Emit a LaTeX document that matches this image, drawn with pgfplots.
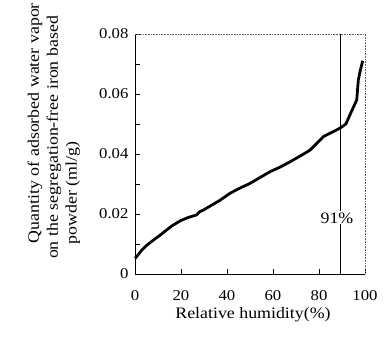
\documentclass[border=0pt]{standalone}
\usepackage{fontspec}
\setmainfont{Liberation Serif}[FakeStretch=1.12]
\usepackage{pgfplots}
\pgfplotsset{compat=1.18}
\begin{document}
\begin{tikzpicture}[x=1bp,y=1bp]
\useasboundingbox (-135bp,-69bp) rectangle (250bp,274bp);
\begin{axis}[
  at={(0,0)}, anchor=south west,
  scale only axis, width=230bp, height=240bp,
  xmin=0, xmax=100, ymin=0, ymax=0.08,
  axis x line*=bottom, axis y line*=left,
  axis line style={line width=0.8pt, -},
  xtick={0,20,40,60,80,100},
  ytick={0,0.02,0.04,0.06,0.08},
  minor ytick={0.01,0.03,0.05,0.07},
  yticklabels={0,0.02,0.04,0.06,0.08},
  scaled y ticks=false,
  tick align=inside,
  major tick length=5bp, minor tick length=5bp,
  tick style={line width=0.6pt, black},
  /pgf/number format/assume math mode=true,
  ticklabel style={font=\fontsize{15}{17}\selectfont},
  yticklabel style={xshift=-3bp},
  xticklabel style={yshift=-13bp},
  xlabel={Relative humidity(\%)},
  xlabel style={font=\fontsize{16}{18}\selectfont, at={(axis description cs:0.513,-0.1675)}, anchor=center},
  clip=false,
]
\draw[densely dotted, line width=0.6pt, gray!80!black] (rel axis cs:0,1) -- (rel axis cs:1,1) -- (rel axis cs:1,0);
\draw[line width=0.9pt] (axis cs:89.5,0) -- (axis cs:89.5,0.08);
\addplot[black, line width=2.8pt, line join=round] coordinates {
(0,0.0052) (0.7,0.0058) (3,0.0080) (5,0.0095) (8,0.0113) (11,0.0130) (13.8,0.0147)
(16,0.0160) (19.6,0.0177) (23,0.0188) (26.8,0.0197) (28,0.0207) (29.7,0.0213)
(33,0.0228) (37,0.0246) (41.3,0.0269) (45,0.0284) (50,0.0302) (54,0.0320)
(58.7,0.0341) (63,0.0356) (67.4,0.0374) (72,0.0394) (76.1,0.0413) (79,0.0435)
(81.9,0.0458) (85,0.0470) (89.1,0.0486) (91.7,0.0500) (94,0.0540) (96.4,0.0580)
(97.1,0.0647) (98,0.0680) (99,0.0711)
};
\node[fill=white, inner sep=1bp, font=\fontsize{16}{18}\selectfont] at (axis cs:87.8,0.0187) {91\%};
\node[rotate=90, font=\fontsize{16}{18}\selectfont] at (axis cs:-43.5,0.0503) {Quantity of adsorbed water vapor};
\node[rotate=90, font=\fontsize{16}{18}\selectfont] at (axis cs:-35.2,0.0455) {on the segregation-free iron based};
\node[rotate=90, font=\fontsize{16}{18}\selectfont] at (axis cs:-27,0.027) {powder (ml/g)};
\end{axis}
\end{tikzpicture}
\end{document}
